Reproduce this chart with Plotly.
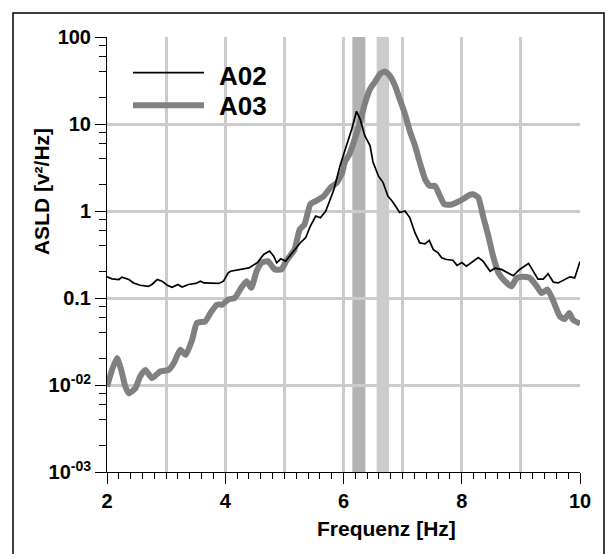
import plotly.graph_objects as go

# ---- data ----
a02_freq = [2.00, 2.085, 2.20, 2.25, 2.37, 2.45, 2.56, 2.70, 2.76, 2.85, 2.93, 3.02, 3.10, 3.20, 3.27,
            3.38, 3.50, 3.58, 3.64, 3.81, 3.89, 3.97, 4.05, 4.09, 4.26, 4.40, 4.54, 4.65, 4.75, 4.82,
            4.87, 4.94, 5.02, 5.13, 5.27, 5.36, 5.44, 5.53, 5.61, 5.70, 5.84, 5.94, 6.05, 6.14, 6.22,
            6.28, 6.36, 6.45, 6.50, 6.59, 6.67, 6.75, 6.84, 6.95, 7.04, 7.12, 7.21, 7.29, 7.38, 7.45,
            7.52, 7.60, 7.66, 7.74, 7.85, 7.92, 8.00, 8.08, 8.28, 8.36, 8.48, 8.56, 8.67, 8.87, 8.98,
            9.13, 9.29, 9.38, 9.46, 9.55, 9.63, 9.74, 9.83, 9.91, 10.0]
a02_vals = [0.175, 0.166, 0.163, 0.173, 0.163, 0.149, 0.140, 0.136, 0.143, 0.163, 0.156, 0.140, 0.133, 0.143, 0.134,
            0.143, 0.147, 0.156, 0.149, 0.149, 0.147, 0.156, 0.195, 0.203, 0.213, 0.222, 0.254, 0.317, 0.346, 0.303,
            0.254, 0.282, 0.265, 0.331, 0.432, 0.493, 0.672, 0.875, 0.838, 1.0, 1.78, 3.30, 5.62, 8.75, 14.0,
            11.4, 7.33, 5.62, 3.62, 2.53, 2.12, 1.49, 1.25, 0.96, 1.0, 0.84, 0.56, 0.43, 0.42, 0.46,
            0.36, 0.33, 0.29, 0.277, 0.272, 0.237, 0.256, 0.232, 0.292, 0.265, 0.203, 0.22, 0.213, 0.18, 0.213,
            0.25, 0.165, 0.165, 0.19, 0.152, 0.149, 0.163, 0.175, 0.17, 0.262]

a03_freq = [2.00, 2.085, 2.17, 2.24, 2.31, 2.37, 2.48, 2.56, 2.65, 2.76, 2.90, 3.04, 3.13, 3.24, 3.33,
            3.44, 3.52, 3.66, 3.75, 3.86, 3.95, 4.05, 4.16, 4.27, 4.36, 4.44, 4.53, 4.61, 4.72, 4.84,
            4.95, 5.03, 5.17, 5.26, 5.34, 5.44, 5.53, 5.67, 5.78, 5.89, 5.98, 6.02, 6.10, 6.19, 6.28,
            6.36, 6.45, 6.53, 6.62, 6.70, 6.78, 6.87, 6.95, 7.04, 7.12, 7.21, 7.29, 7.38, 7.46, 7.55,
            7.63, 7.71, 7.83, 7.91, 8.04, 8.12, 8.19, 8.28, 8.36, 8.45, 8.53, 8.62, 8.73, 8.84, 8.93,
            9.04, 9.15, 9.27, 9.35, 9.45, 9.55, 9.66, 9.74, 9.82, 9.88, 10.0]
a03_vals = [0.0096, 0.0149, 0.0204, 0.0149, 0.0096, 0.0080, 0.0092, 0.0125, 0.0149, 0.0120, 0.0143, 0.0149, 0.0178, 0.0254, 0.0222,
            0.0331, 0.0516, 0.0538, 0.0673, 0.084, 0.084, 0.096, 0.100, 0.131, 0.156, 0.131, 0.203, 0.254, 0.265, 0.213,
            0.213, 0.265, 0.36, 0.615, 0.70, 1.2, 1.30, 1.49, 1.86, 2.12, 2.77, 3.62, 4.5, 6.71, 10.5,
            17.0, 25.3, 30.3, 37.7, 40.1, 36.1, 27.7, 19.4, 13.0, 8.37, 5.62, 3.62, 2.32, 1.94, 1.94,
            1.49, 1.19, 1.19, 1.25, 1.39, 1.52, 1.56, 1.43, 0.875, 0.515, 0.303, 0.195, 0.156, 0.136, 0.17,
            0.175, 0.17, 0.136, 0.114, 0.125, 0.092, 0.0615, 0.0574, 0.0673, 0.0563, 0.0507]

band_dark = (6.15, 6.37)
band_light = (6.56, 6.77)

y_ticks = [0.001, 0.01, 0.1, 1, 10, 100]
y_ticktext = ["10<sup>-03</sup>", "10<sup>-02</sup>", "0.1", "1", "10", "100"]
y_minor = [m * 10.0 ** e for e in range(-3, 2) for m in (2, 4, 6, 8)]

FONT = "Liberation Sans, Arial, sans-serif"

fig = go.Figure()
# overlay axis carrying the 1 Hz vertical gridlines
fig.add_trace(go.Scatter(x=[2, 10], y=[None, None], xaxis="x2", showlegend=False, hoverinfo="skip"))
fig.add_trace(go.Scatter(x=a03_freq, y=a03_vals, mode="lines", name="A03",
                         line=dict(color="#808080", width=6, shape="spline", smoothing=0.5)))
fig.add_trace(go.Scatter(x=a02_freq, y=a02_vals, mode="lines", name="A02",
                         line=dict(color="#000000", width=1.7)))

for (x0, x1), col in [(band_dark, "#b3b3b3"), (band_light, "#cccccc")]:
    fig.add_shape(type="rect", xref="x", yref="paper", x0=x0, x1=x1, y0=0, y1=1,
                  fillcolor=col, line=dict(width=0), layer="between")

# legend drawn in place
leg = [("A02", "#000000", 1.7, 0.918, 0.910), ("A03", "#808080", 6, 0.843, 0.841)]
for name, col, w, yl, yt in leg:
    fig.add_shape(type="line", xref="paper", yref="paper", x0=0.055, x1=0.205, y0=yl, y1=yl,
                  line=dict(color=col, width=w))
    fig.add_annotation(xref="paper", yref="paper", x=0.233, y=yt, text=name, showarrow=False,
                       xanchor="left", yanchor="middle",
                       font=dict(family=FONT, size=26, color="black", weight="bold"))

# outer frame
fig.add_shape(type="rect", xref="paper", yref="paper", x0=-0.1987, x1=1.0507, y0=-0.21, y1=1.0552,
              line=dict(color="black", width=1.5), layer="above")

# axis titles
fig.add_annotation(xref="paper", yref="paper", x=0.590, y=-0.129, text="Frequenz [Hz]", showarrow=False,
                   xanchor="center", yanchor="middle",
                   font=dict(family=FONT, size=21, color="black", weight="bold"))
fig.add_annotation(xref="paper", yref="paper", x=-0.137, y=0.644, text="ASLD [v²/Hz]", showarrow=False,
                   textangle=-90, xanchor="center", yanchor="middle",
                   font=dict(family=FONT, size=21, color="black", weight="bold"))

tickfont = dict(family=FONT, size=20, color="black", weight="bold")

fig.update_layout(
    width=615, height=554,
    margin=dict(l=107, r=35, t=37, b=82),
    paper_bgcolor="white", plot_bgcolor="white",
    showlegend=False,
    xaxis=dict(range=[2, 10], tickmode="linear", tick0=2, dtick=2, ticks="outside", ticklen=11,
               tickcolor="black", tickwidth=1, showgrid=False, zeroline=False,
               showline=True, linecolor="black", linewidth=1, tickfont=tickfont,
               minor=dict(tickmode="linear", tick0=2, dtick=0.2, ticks="outside", ticklen=6,
                          tickcolor="black", tickwidth=1, showgrid=False)),
    xaxis2=dict(range=[2, 10], overlaying="x", tickmode="linear", tick0=2, dtick=1,
                showgrid=True, gridcolor="#cccccc", gridwidth=3,
                showticklabels=False, ticks="", zeroline=False, showline=False),
    yaxis=dict(type="log", range=[-3, 2], tickmode="array", tickvals=y_ticks, ticktext=y_ticktext,
               ticks="outside", ticklen=11, tickcolor="black", showgrid=True, gridcolor="#cccccc",
               gridwidth=3, zeroline=False, showline=True, linecolor="black", linewidth=1,
               tickfont=tickfont,
               minor=dict(tickmode="array", tickvals=y_minor, ticks="outside", ticklen=7,
                          tickcolor="black", tickwidth=1, showgrid=False)),
)

fig.write_html("out.html")
